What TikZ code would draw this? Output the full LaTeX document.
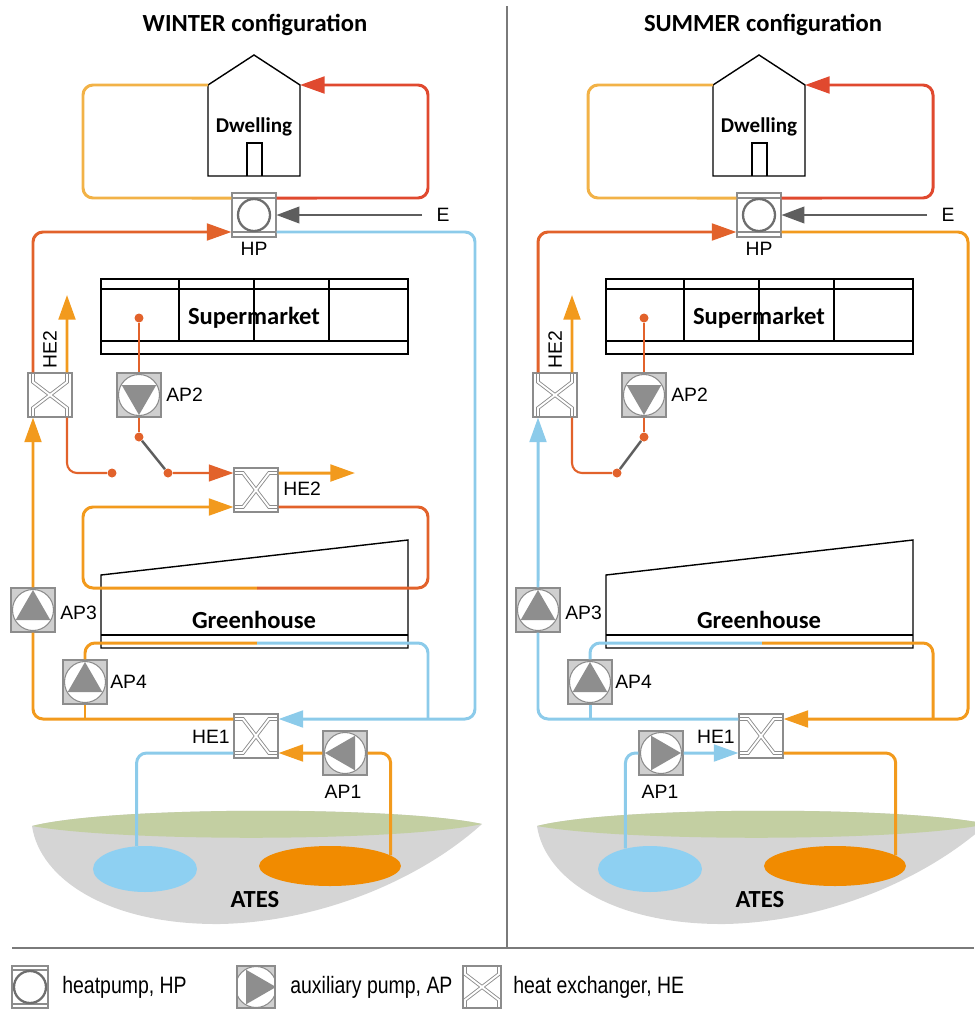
\documentclass[tikz,border=0pt]{standalone}
\usepackage{fontspec}
\setmainfont{Liberation Sans}
\newfontfamily\headfont{Carlito}
\newfontfamily\narrowfont[FakeStretch=0.82]{Liberation Sans}
\usetikzlibrary{arrows.meta,shapes.geometric}
\definecolor{pipeHot}{HTML}{E2622B}
\definecolor{pipeWarm}{HTML}{F29A1D}
\definecolor{pipeCold}{HTML}{8CCBEA}
\definecolor{pipeReturn}{HTML}{F2B247}
\definecolor{pipeSupply}{HTML}{E0492F}
\definecolor{symGrey}{HTML}{8C8C8C}
\definecolor{symDark}{HTML}{6E6E6E}
\definecolor{apFill}{HTML}{CFCFCF}
\definecolor{triGrey}{HTML}{8E8E8E}
\definecolor{lineGrey}{HTML}{5E5E5E}
\definecolor{frameGrey}{HTML}{7A7A7A}
\definecolor{soilGrey}{HTML}{D5D5D5}
\definecolor{soilGreen}{HTML}{C3CFA2}
\definecolor{aquiferCold}{HTML}{8ED0F2}
\definecolor{aquiferWarm}{HTML}{F18B00}

% pipe port offset from a symbol centre (17px)
\def\portOff{0.34cm}

\tikzset{
  pipe/.style={line width=1.7pt, rounded corners=2mm},
  hotpipe/.style={pipe, draw=pipeHot},
  warmpipe/.style={pipe, draw=pipeWarm},
  coldpipe/.style={pipe, draw=pipeCold},
  returnpipe/.style={pipe, draw=pipeReturn},
  supplypipe/.style={pipe, draw=pipeSupply},
  thinpipe/.style={line width=1.2pt, rounded corners=2mm, draw=pipeHot},
  flow/.style={-{Triangle[length=14pt,width=9.5pt]}},
  power/.style={draw=lineGrey, line width=0.9pt, -{Triangle[length=13pt,width=9.5pt]}},
  switchbar/.style={draw=lineGrey, line width=1.4pt},
  junction/.style={circle, fill=pipeHot, inner sep=0pt, minimum size=0.18cm},
  building/.style={draw=black, line width=0.8pt},
  frame/.style={draw=frameGrey, line width=0.9pt},
  title/.style={font=\headfont\bfseries\fontsize{14}{16}\selectfont},
  bldtext/.style={font=\headfont\bfseries\fontsize{14}{16}\selectfont},
  housetext/.style={font=\headfont\bfseries\fontsize{12}{14}\selectfont},
  tag/.style={font=\fontsize{11}{13}\selectfont, inner sep=0pt},
  legtext/.style={font=\narrowfont\fontsize{13.5}{15}\selectfont, inner sep=0pt, anchor=west},
  coldwell/.style={ellipse, fill=aquiferCold, inner sep=0pt, minimum width=2.08cm, minimum height=0.92cm},
  warmwell/.style={ellipse, fill=aquiferWarm, inner sep=0pt, minimum width=2.84cm, minimum height=0.8cm},
  xline/.style={draw=symGrey, double=white, double distance=1.1pt, line width=0.5pt},
  symbox/.style={draw=symGrey, line width=0.6pt, minimum size=0.88cm, inner sep=0pt},
  heatpump/.style={symbox, fill=white, path picture={
      \draw[symGrey, line width=0.6pt, shift={(path picture bounding box.center)}]
        (-30,-17) -- (30,-17) (-30,17) -- (30,17);
      \draw[symDark, line width=1.3pt, shift={(path picture bounding box.center)}]
        (0,0) circle[radius=16];}},
  % argument: direction the pump points, in degrees on the page
  apump/.style={symbox, fill=apFill, path picture={
      \begin{scope}[shift={(path picture bounding box.center)}]
        \draw[symGrey, fill=white, line width=0.6pt] (0,0) circle[radius=20.5];
        \fill[triGrey] ({-(#1)}:20) -- ({120-(#1)}:20) -- ({240-(#1)}:20) -- cycle;
      \end{scope}}},
  hexv/.style={symbox, fill=white, path picture={
      \draw[xline, shift={(path picture bounding box.center)}]
        (-17,-25) -- (-17,-13) -- (17,13) -- (17,25)
        (17,-25) -- (17,-13) -- (-17,13) -- (-17,25);}},
  hexh/.style={symbox, fill=white, path picture={
      \draw[xline, shift={(path picture bounding box.center)}]
        (-25,-17) -- (-13,-17) -- (13,17) -- (25,17)
        (-25,17) -- (-13,17) -- (13,-17) -- (25,-17);}},
}

\begin{document}
\begin{tikzpicture}[x=0.02cm, y=-0.02cm]
\useasboundingbox (0,0) rectangle (974,1011);

% --- FRAME ---
\draw[frame] (507,6) -- (507,948);
\draw[frame] (12,948) -- (974,948);

% --- TITLES ---
\node[title] (titleW) at (255,25) {WINTER configuration};
\node[title] (titleS) at (763,25) {SUMMER configuration};

% --- GROUND (both panels) ---
\foreach \dx in {0,505} {
  \begin{scope}[shift={(\dx,0)}]
    \fill[soilGrey] (32,826) .. controls (40,880) and (110,925) .. (220,924)
      .. controls (320,922) and (420,880) .. (482,824)
      .. controls (400,806) and (110,806) .. (32,826) -- cycle;
    \fill[soilGreen] (32,826) .. controls (110,806) and (400,806) .. (482,824)
      .. controls (400,842) and (120,842) .. (32,826) -- cycle;
  \end{scope}
}

% --- AQUIFERS ---
\node[coldwell] (coldW) at (145,869) {};
\node[warmwell] (warmW) at (330,866) {};
\node[bldtext] (atesW) at (255,900) {ATES};
\node[coldwell] (coldS) at (650,869) {};
\node[warmwell] (warmS) at (835,866) {};
\node[bldtext] (atesS) at (760,900) {ATES};

% --- BUILDINGS, SHARED COMPONENTS AND PIPES (both panels) ---
\foreach \dx/\p in {0/W,505/S} {
  \begin{scope}[shift={(\dx,0)}]
    % dwelling
    \draw[building] (208,176) -- (208,85) -- (254,55) -- (300,85) -- (300,176) -- cycle;
    \draw[building] (247,176) -- (247,143) -- (262,143) -- (262,176);
    \node[housetext] (dwell\p) at (254,127) {Dwelling};
    \coordinate (eaveL\p) at (208,85);
    \coordinate (eaveR\p) at (300,85);
    % supermarket
    \draw[building] (101,279) rectangle (408,354);
    \draw[building] (101,289) -- (408,289) (101,341) -- (408,341);
    \foreach \xv in {179,254,329}
      \draw[building] (\xv,279) -- (\xv,341);
    \node[bldtext] (market\p) at (254,318) {Supermarket};
    % greenhouse
    \draw[building] (101,648) -- (101,575) -- (408,540) -- (408,648) -- cycle;
    \draw[building] (101,635) -- (408,635);
    \node[bldtext] (green\p) at (254,620) {Greenhouse};

    % components
    \node[heatpump] (hp\p) at (254,215) {};
    \node[tag] (hpLbl\p) at (254,249) {HP};
    \node[tag] (e\p) at (443,215) {E};
    \node[hexv] (heA\p) at (50,395) {};
    \node[tag, rotate=90] (heALbl\p) at (50,350) {HE2};
    \node[apump=-90] (ap2\p) at (139,395) {};
    \node[tag, anchor=west] (ap2Lbl\p) at (166,395) {AP2};
    \node[apump=90] (ap3\p) at (33,610) {};
    \node[tag, anchor=west] (ap3Lbl\p) at (60,613) {AP3};
    \node[apump=90] (ap4\p) at (85,682) {};
    \node[tag, anchor=west] (ap4Lbl\p) at (110,682) {AP4};
    \node[hexh] (he1\p) at (256,736) {};
    \node[tag, anchor=east] (he1Lbl\p) at (230,737) {HE1};
    \node[junction] (smDot\p) at (139,318) {};
    \node[junction] (tapA\p) at (112,473) {};
    \node[junction] (tapP\p) at (139,437) {};
    \coordinate (loopL\p) at (83,198);
    \coordinate (loopR\p) at (428,198);
    \coordinate (up\p) at (67,295);

    % dwelling loop and power input
    \draw[returnpipe] ([yshift=\portOff]hp\p.west) -- (loopL\p) |- (eaveL\p);
    \draw[supplypipe, flow] ([yshift=\portOff]hp\p.east) -- (loopR\p) |- (eaveR\p);
    \draw[power, shorten <=0.28cm] (e\p) -- (hp\p);
    % heat pump source side, left
    \draw[hotpipe, flow] ([xshift=-\portOff]heA\p.north) |- ([yshift=-\portOff]hp\p.west);
    \draw[warmpipe, flow] ([xshift=\portOff]heA\p.north) -- (up\p);
    % supermarket branch
    \draw[thinpipe] ([xshift=\portOff]heA\p.south) |- (tapA\p);
    \draw[thinpipe] (smDot\p) -- (ap2\p);
    \draw[thinpipe] (ap2\p) -- (tapP\p);
  \end{scope}
}

% --- WINTER ---
\coordinate (rimW) at (475,232);
\draw[coldpipe, flow] ([yshift=-\portOff]hpW.east) -- (rimW) |- ([yshift=\portOff]he1W.east);

% greenhouse heat exchanger
\node[hexh] (he2bW) at (256,490) {};
\node[tag, anchor=west] (he2bLblW) at (283,489) {HE2};
\node[junction] (tapBW) at (168,473) {};
\coordinate (outW) at (355,473);
\draw[switchbar] (tapPW) -- (tapBW);
\draw[thinpipe, flow] (tapBW) -- ([yshift=\portOff]he2bW.west);
\draw[warmpipe, flow] ([yshift=\portOff]he2bW.east) -- (outW);
\coordinate (ghMidW) at (257,588);
\coordinate (ghLW) at (83,588);
\coordinate (ghRW) at (428,588);
\draw[warmpipe, flow] (ghMidW) -- (ghLW) |- ([yshift=-\portOff]he2bW.west);
\draw[hotpipe] ([yshift=-\portOff]he2bW.east) -| (ghRW) -- (ghMidW);

% floor loop
\coordinate (j4W) at (85,719);
\coordinate (floorMidW) at (257,643);
\coordinate (floorRW) at (428,719);
\draw[warmpipe] (j4W) -- (ap4W);
\draw[warmpipe] (ap4W) |- (floorMidW);
\draw[coldpipe] (floorMidW) -| (floorRW);

% main return to HE2
\draw[warmpipe] ([yshift=\portOff]he1W.west) -| (ap3W);
\draw[warmpipe, flow] (ap3W) -- ([xshift=-\portOff]heAW.south);

% ATES side
\node[apump=180] (ap1W) at (345,753) {};
\node[tag] (ap1LblW) at (343,792) {AP1};
\draw[warmpipe] (warmW.10) |- (ap1W);
\draw[warmpipe, flow] (ap1W) -- ([yshift=-\portOff]he1W.east);
\draw[coldpipe] ([yshift=-\portOff]he1W.west) -| (coldW.110);

% --- SUMMER ---
\coordinate (rimS) at (968,232);
\draw[warmpipe, flow] ([yshift=-\portOff]hpS.east) -- (rimS) |- ([yshift=\portOff]he1S.east);
\draw[switchbar] (tapPS) -- (tapAS);

% floor loop
\coordinate (j4S) at (590,719);
\coordinate (floorMidS) at (762,643);
\coordinate (floorRS) at (933,719);
\draw[coldpipe] (j4S) -- (ap4S);
\draw[coldpipe] (ap4S) |- (floorMidS);
\draw[warmpipe] (floorMidS) -| (floorRS);

% main return to HE2
\draw[coldpipe] ([yshift=\portOff]he1S.west) -| (ap3S);
\draw[coldpipe, flow] (ap3S) -- ([xshift=-\portOff]heAS.south);

% ATES side
\node[apump=0] (ap1S) at (661,753) {};
\node[tag] (ap1LblS) at (660,792) {AP1};
\draw[coldpipe] (coldS.140) |- (ap1S);
\draw[coldpipe, flow] (ap1S) -- ([yshift=-\portOff]he1S.west);
\draw[warmpipe] ([yshift=-\portOff]he1S.east) -| (warmS.10);

% --- LEGEND ---
\node[heatpump, minimum width=0.72cm, minimum height=0.84cm] (legHP) at (30,987) {};
\node[legtext] (legHPtext) at (62,987) {heatpump, HP};
\node[apump=0, minimum width=0.76cm, minimum height=0.84cm] (legAP) at (256,987) {};
\node[legtext] (legAPtext) at (290,987) {auxiliary pump, AP};
\node[hexv, minimum width=0.76cm, minimum height=0.84cm] (legHE) at (482,987) {};
\node[legtext] (legHEtext) at (513,987) {heat exchanger, HE};

\end{tikzpicture}
\end{document}
